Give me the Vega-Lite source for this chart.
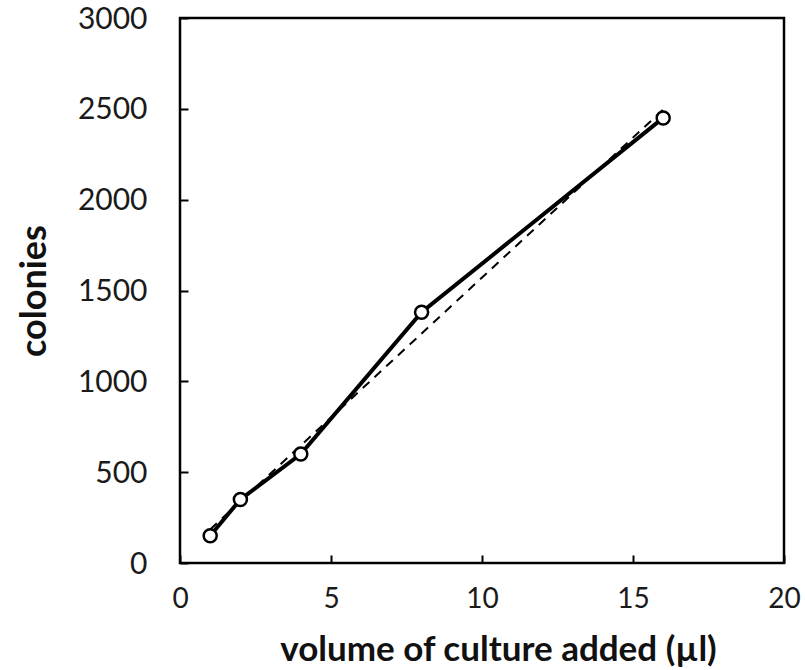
{
  "$schema": "https://vega.github.io/schema/vega-lite/v6.json",
  "width": 604,
  "height": 545,
  "autosize": {"type": "none"},
  "padding": {"left": 180, "top": 18, "right": 21, "bottom": 107},
  "background": "white",
  "config": {
    "view": {"stroke": "black", "strokeWidth": 2.5},
    "font": "Lato",
    "axis": {"grid": false, "domain": false, "labelColor": "#1a1a1a", "titleColor": "#111", "tickColor": "black", "tickWidth": 2, "titleFontWeight": "bold", "labelFont": "Lato", "titleFont": "Lato"}
  },
  "data": {"values": [
    {"volume": 1, "colonies": 150},
    {"volume": 2, "colonies": 350},
    {"volume": 4, "colonies": 600},
    {"volume": 8, "colonies": 1380},
    {"volume": 16, "colonies": 2450}
  ]},
  "encoding": {
    "x": {"field": "volume", "type": "quantitative", "scale": {"domain": [0, 20], "nice": false}, "axis": {"values": [0, 5, 10, 15, 20], "tickSize": -8, "labelPadding": 30, "labelFontSize": 28, "title": "volume of culture added (µl)", "titleFontSize": 35, "titlePadding": 19, "titleX": 318, "labelFlush": false}},
    "y": {"field": "colonies", "type": "quantitative", "scale": {"domain": [0, 3000], "nice": false}, "axis": {"values": [0, 500, 1000, 1500, 2000, 2500, 3000], "format": "d", "tickSize": -8, "labelPadding": 41, "labelFontSize": 30, "labelBaseline": "alphabetic", "labelOffset": 10, "title": "colonies", "titleFontSize": 36, "titlePadding": 24, "labelFlush": false}}
  },
  "layer": [
    {
      "transform": [{"regression": "colonies", "on": "volume", "extent": [1, 16]}],
      "mark": {"type": "line", "color": "black", "strokeWidth": 2, "strokeDash": [9, 7]}
    },
    {
      "mark": {"type": "line", "color": "black", "strokeWidth": 4}
    },
    {
      "mark": {"type": "point", "shape": "circle", "filled": true, "fill": "white", "stroke": "black", "strokeWidth": 2.5, "size": 170, "opacity": 1}
    }
  ]
}
